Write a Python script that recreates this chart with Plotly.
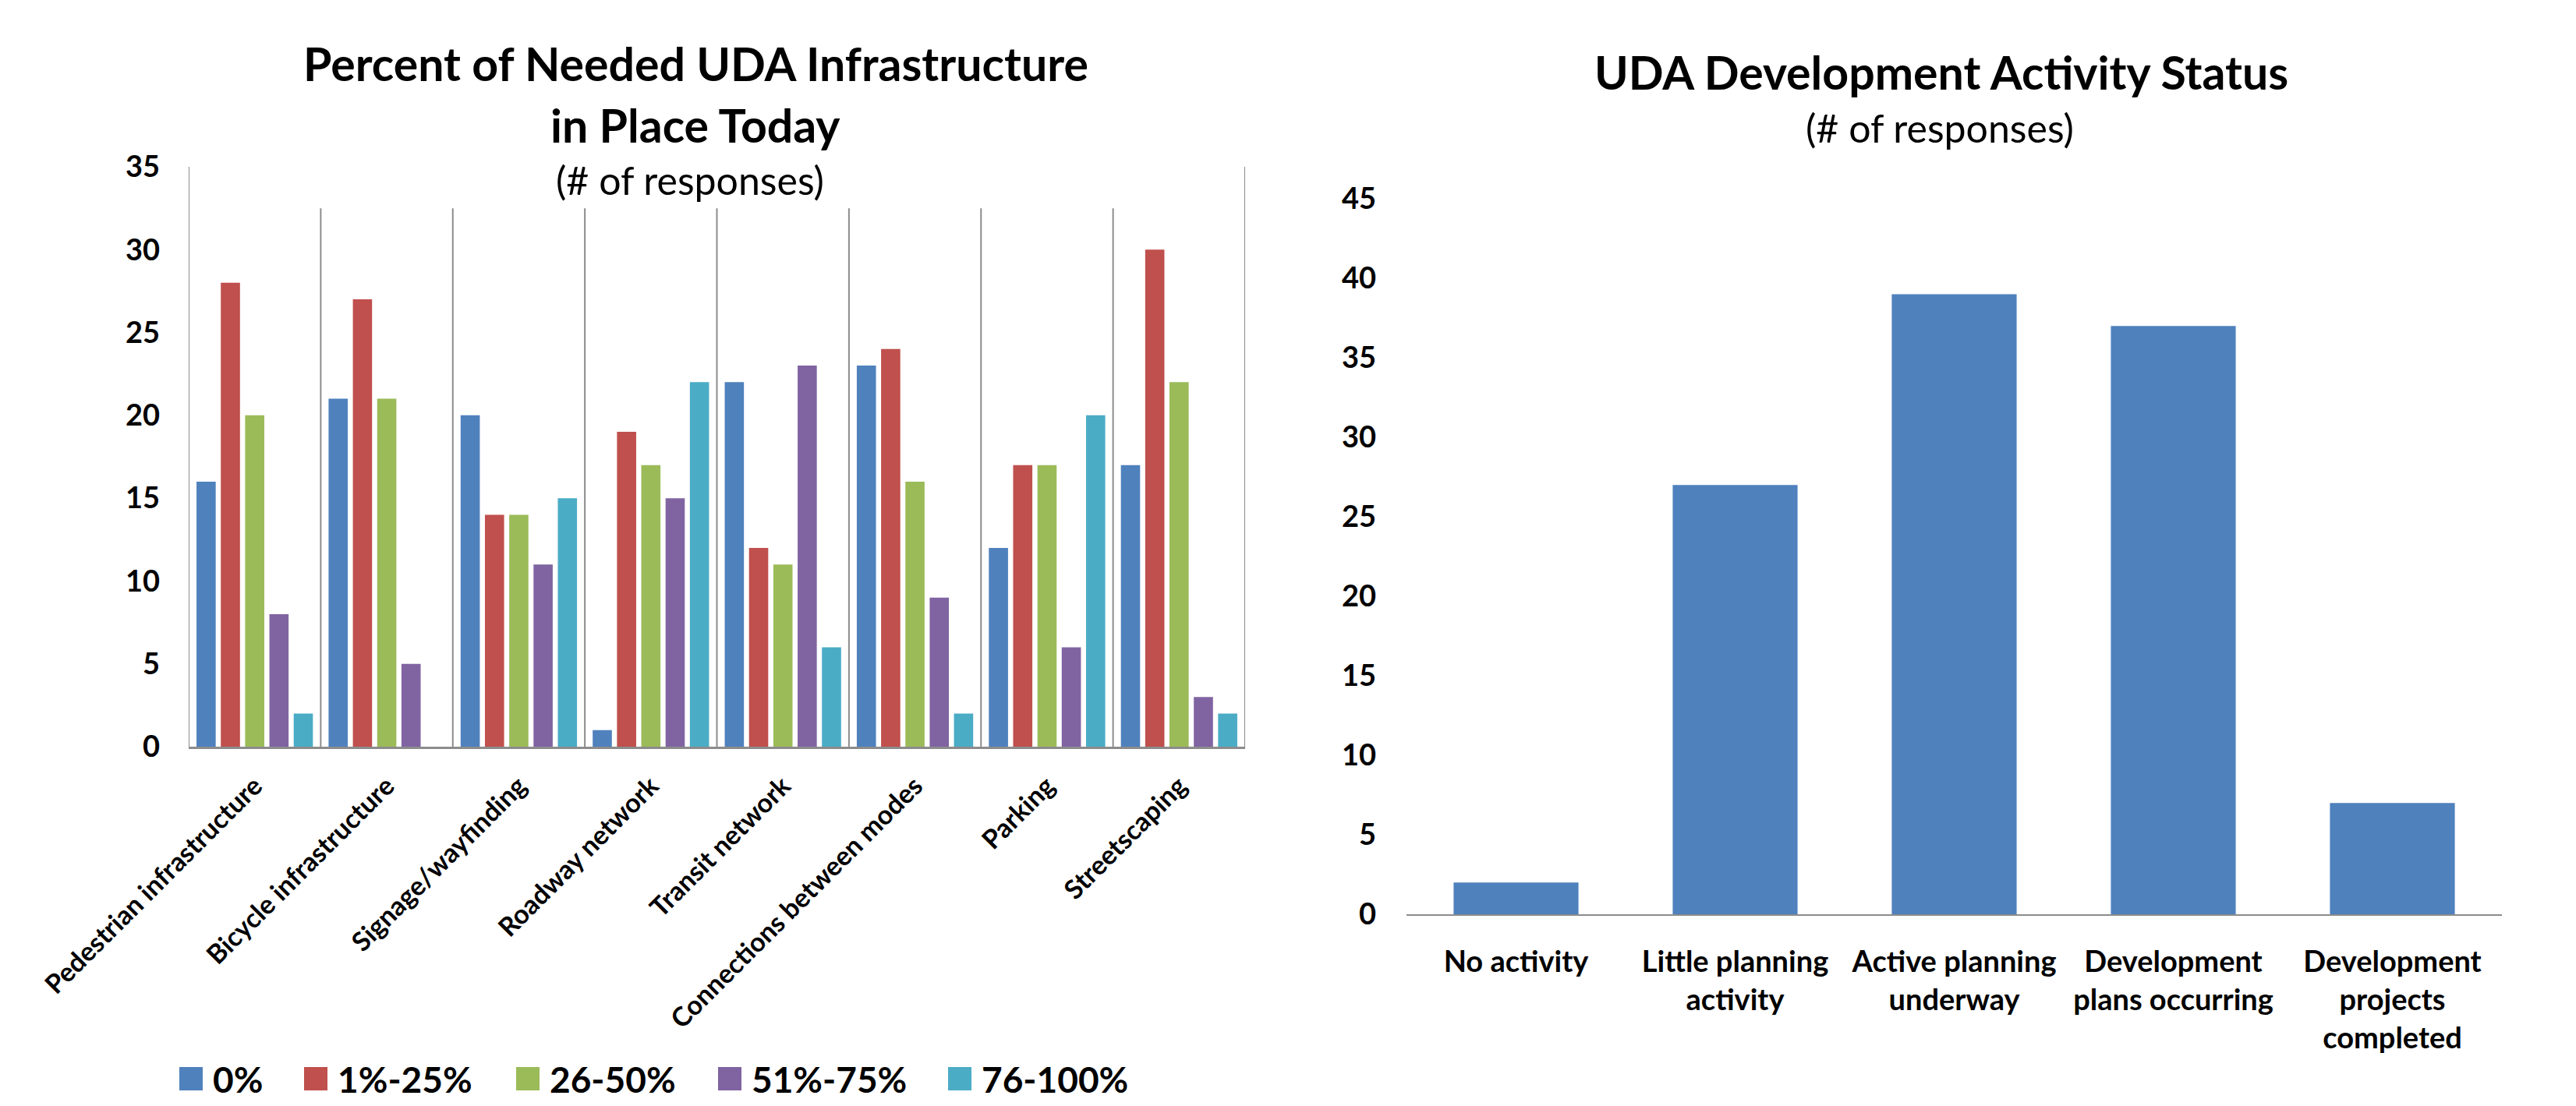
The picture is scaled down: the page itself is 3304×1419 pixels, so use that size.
import plotly.graph_objects as go

W, H = 3304, 1419

# ---- data -------------------------------------------------------------
infra_categories = [
    "Pedestrian infrastructure",
    "Bicycle infrastructure",
    "Signage/wayfinding",
    "Roadway network",
    "Transit network",
    "Connections between modes",
    "Parking",
    "Streetscaping",
]
share_levels = ["0%", "1%-25%", "26-50%", "51%-75%", "76-100%"]
pct_0 = [16, 21, 20, 1, 22, 23, 12, 17]
pct_1_25 = [28, 27, 14, 19, 12, 24, 17, 30]
pct_26_50 = [20, 21, 14, 17, 11, 16, 17, 22]
pct_51_75 = [8, 5, 11, 15, 23, 9, 6, 3]
pct_76_100 = [2, 0, 15, 22, 6, 2, 20, 2]
infra_series = [pct_0, pct_1_25, pct_26_50, pct_51_75, pct_76_100]

activity_categories = [
    "No activity",
    "Little planning<br>activity",
    "Active planning<br>underway",
    "Development<br>plans occurring",
    "Development<br>projects<br>completed",
]
activity_counts = [2, 27, 39, 37, 7]

# ---- styling ----------------------------------------------------------
series_colors = ["#4F81BD", "#C0504D", "#9BBB59", "#8064A2", "#4BACC6"]
FONT = "Lato, 'Open Sans', sans-serif"
AXIS_GREY = "#8C8C8C"


def px_x(p):
    return p / W


def px_y(p):
    return 1 - p / H


fig = go.Figure()

for name, vals, col in zip(share_levels, infra_series, series_colors):
    fig.add_trace(go.Bar(
        x=infra_categories, y=vals, name=name, marker_color=col,
        marker_line_width=0, xaxis="x", yaxis="y", showlegend=False,
    ))

fig.add_trace(go.Bar(
    x=activity_categories, y=activity_counts, marker_color=series_colors[0],
    marker_line_width=0, xaxis="x2", yaxis="y2", showlegend=False,
    width=0.57,
))

tick_font = dict(family=FONT, size=38, color="black", weight=700)

fig.update_layout(
    template="none",
    width=W, height=H, autosize=False,
    margin=dict(l=0, r=0, t=0, b=0, pad=0),
    paper_bgcolor="white", plot_bgcolor="white",
    barmode="group", bargap=0.08, bargroupgap=0.21,
    xaxis=dict(
        domain=[px_x(242), px_x(1597)], anchor="y", automargin=False,
        range=[-0.5, len(infra_categories) - 0.5],
        showline=True, linecolor=AXIS_GREY, linewidth=3,
        showgrid=False, ticks="", tickangle=-45,
        tickfont=dict(family=FONT, size=34, color="black", weight=700),
        ticklabelstandoff=14,
    ),
    yaxis=dict(
        domain=[px_y(958), px_y(214)], anchor="x", automargin=False,
        range=[0, 35], dtick=5, showgrid=False, zeroline=False,
        showline=False, ticks="", tickfont=tick_font,
        ticklabelstandoff=36,
    ),
    xaxis2=dict(
        domain=[px_x(1804), px_x(3209)], anchor="y2", automargin=False,
        range=[-0.5, len(activity_categories) - 0.5],
        showline=True, linecolor=AXIS_GREY, linewidth=2,
        showgrid=False, ticks="",
        tickfont=dict(family=FONT, size=38, color="black", weight=700),
        ticklabelstandoff=26,
    ),
    yaxis2=dict(
        domain=[px_y(1173), px_y(255)], anchor="x2", automargin=False,
        range=[0, 45], dtick=5, showgrid=False, zeroline=False,
        showline=False, ticks="", tickfont=tick_font,
        ticklabelstandoff=38,
    ),
)

# category separators of the grouped chart (edges run to the top of the axis)
n_cat = len(infra_categories)
for i in range(n_cat + 1):
    edge = i in (0, n_cat)
    fig.add_shape(
        type="line", xref="x", yref="y",
        x0=i - 0.5, x1=i - 0.5, y0=0, y1=35 if edge else 32.5,
        line=dict(color=AXIS_GREY, width=2), layer="below",
    )

# titles
title_font = dict(family=FONT, size=59, color="black", weight=700)
sub_font = dict(family=FONT, size=50, color="black")
annotations = [
    dict(text="Percent of Needed UDA Infrastructure", x=px_x(892), y=px_y(82), font=title_font),
    dict(text="in Place Today", x=px_x(892), y=px_y(160), font=title_font),
    dict(text="(# of responses)", x=px_x(885), y=px_y(231), font=sub_font),
    dict(text="UDA Development Activity Status", x=px_x(2490), y=px_y(93), font=title_font),
    dict(text="(# of responses)", x=px_x(2488), y=px_y(164), font=sub_font),
]
for a in annotations:
    fig.add_annotation(xref="paper", yref="paper", xanchor="center",
                       yanchor="middle", showarrow=False, **a)

# legend of the grouped chart: colour swatch + label
legend_left_px = [230, 390, 662, 921, 1216]
legend_font = dict(family=FONT, size=46, color="black", weight=700)
for name, col, lx in zip(share_levels, series_colors, legend_left_px):
    fig.add_shape(
        type="rect", xref="paper", yref="paper",
        x0=px_x(lx), x1=px_x(lx + 30), y0=px_y(1399), y1=px_y(1369),
        fillcolor=col, line_width=0,
    )
    fig.add_annotation(
        xref="paper", yref="paper", x=px_x(lx + 41), y=px_y(1384),
        xanchor="left", yanchor="middle", text=name, showarrow=False,
        font=legend_font,
    )

fig.write_html("out.html")
